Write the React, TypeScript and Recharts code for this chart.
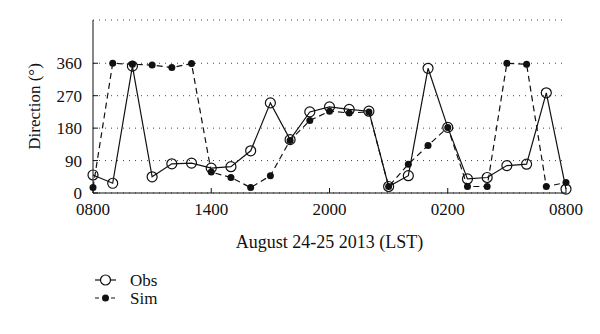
import { LineChart, Line, XAxis, YAxis, CartesianGrid } from 'recharts';

const HOURS = [0, 1, 2, 3, 4, 5, 6, 7, 8, 9, 10, 11, 12, 13, 14, 15, 16, 17, 18, 19, 20, 21, 22, 23, 24];
const OBS = [50, 27, 352, 45, 81, 83, 69, 73, 117, 250, 148, 225, 239, 232, 227, 18, 48, 346, 182, 39, 43, 76, 80, 278, 11];
const SIM = [15, 360, 357, 355, 348, 359, 58, 43, 15, 48, 146, 201, 227, 222, 225, 18, 80, 132, 182, 18, 18, 360, 357, 18, 29];

const X_TICKS = [0, 6, 12, 18, 24];
const X_TICK_LABELS = ['0800', '1400', '2000', '0200', '0800'];
const Y_TICKS = [0, 90, 180, 270, 360];

const FONT = '"Liberation Serif", "DejaVu Serif", serif';

const data = HOURS.map((h, i) => ({ h, obs: OBS[i], sim: SIM[i] }));

const ObsDot = (props: any) => {
  const { cx, cy } = props;
  return <circle cx={cx} cy={cy} r={5} fill="none" stroke="#111" strokeWidth={1.2} />;
};

const SimDot = (props: any) => {
  const { cx, cy } = props;
  return <circle cx={cx} cy={cy} r={3.5} fill="#111" stroke="none" />;
};

const App = () => {
  return (
    <div style={{ position: 'absolute', left: 0, top: 0, width: 600, height: 334, background: '#fff', fontFamily: FONT }}>
      <LineChart width={600} height={334} data={data} margin={{ top: 20, right: 34, left: 0, bottom: 81 }}>
        <CartesianGrid
          yAxisId="left"
          horizontal
          vertical={false}
          stroke="#444"
          strokeDasharray="1 5"
        />
        <XAxis
          dataKey="h"
          type="number"
          domain={[0, 24]}
          ticks={X_TICKS}
          tickFormatter={(v: number) => X_TICK_LABELS[X_TICKS.indexOf(v)]}
          height={60}
          tickSize={-5}
          tickMargin={15}
          stroke="#111"
          tick={{ fill: '#111', fontSize: 17, fontFamily: FONT }}
          label={{ value: 'August 24-25 2013 (LST)', position: 'insideBottom', offset: 5, fill: '#111', fontSize: 18, fontFamily: FONT }}
        />
        <XAxis
          xAxisId="top"
          orientation="top"
          dataKey="h"
          type="number"
          domain={[0, 24]}
          ticks={X_TICKS}
          tickFormatter={() => ''}
          height={0}
          tickSize={-5}
          stroke="#111"
        />
        <YAxis
          yAxisId="left"
          domain={[0, 480]}
          ticks={Y_TICKS}
          width={93}
          tickSize={-5}
          tickMargin={16}
          stroke="#111"
          tick={{ fill: '#111', fontSize: 17, fontFamily: FONT }}
          label={{
            value: 'Direction (°)',
            angle: -90,
            position: 'insideLeft',
            offset: 34,
            fill: '#111',
            fontSize: 17,
            fontFamily: FONT,
            style: { textAnchor: 'middle' },
          }}
        />
        <YAxis
          yAxisId="right"
          orientation="right"
          domain={[0, 480]}
          ticks={Y_TICKS}
          tickFormatter={() => ''}
          width={0}
          tickSize={-5}
          stroke="#111"
        />
        <Line
          yAxisId="left"
          dataKey="obs"
          stroke="#111"
          strokeWidth={1.2}
          dot={<ObsDot />}
          isAnimationActive={false}
        />
        <Line
          yAxisId="left"
          dataKey="sim"
          stroke="#111"
          strokeWidth={1.2}
          strokeDasharray="6 4"
          dot={<SimDot />}
          isAnimationActive={false}
        />
      </LineChart>
      <svg width={200} height={50} style={{ position: 'absolute', left: 80, top: 268 }}>
        <line x1={15} x2={36} y1={12} y2={12} stroke="#111" strokeWidth={1.2} />
        <circle cx={25.5} cy={12} r={5} fill="#fff" stroke="#111" strokeWidth={1.2} />
        <text x={50} y={18} fontSize={17} fontFamily={FONT} fill="#111">Obs</text>
        <line x1={15} x2={36} y1={30} y2={30} stroke="#111" strokeWidth={1.2} strokeDasharray="4 4" />
        <circle cx={25.5} cy={30} r={3.5} fill="#111" />
        <text x={50} y={36} fontSize={17} fontFamily={FONT} fill="#111">Sim</text>
      </svg>
    </div>
  );
};

export default App;
